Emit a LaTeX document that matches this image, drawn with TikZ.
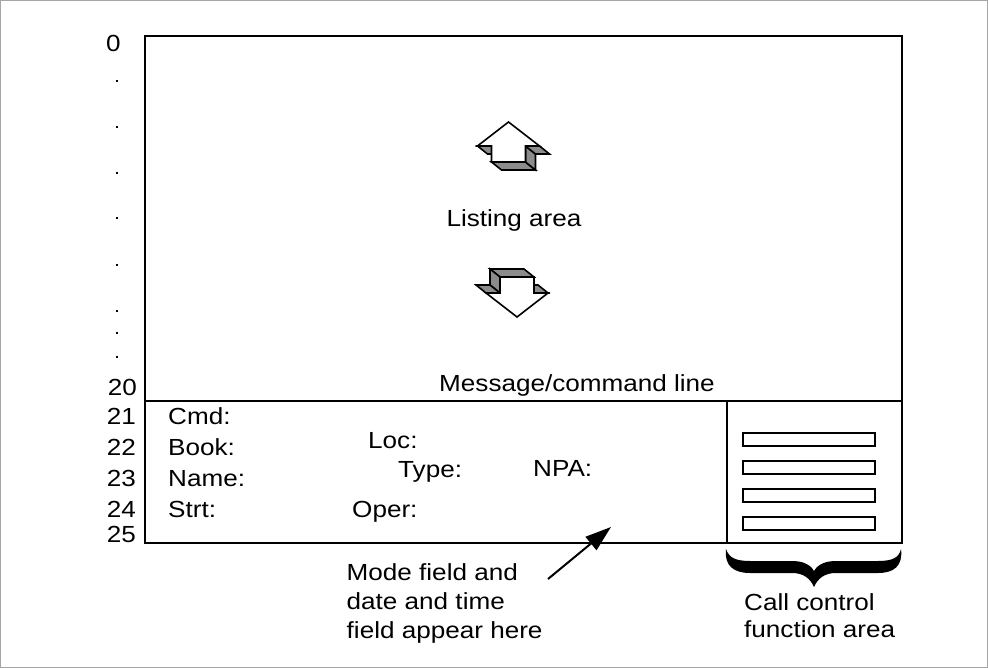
\documentclass[tikz,border=0pt]{standalone}
\usepackage{fontspec}
\setmainfont[FakeStretch=1.12]{Liberation Sans}
\usetikzlibrary{arrows.meta}
\begin{document}
\begin{tikzpicture}[x=1pt,y=-1pt,
  txt/.style={inner sep=0pt, anchor=base west, font=\fontsize{23.3}{28}\selectfont},
  num/.style={inner sep=0pt, anchor=base east, font=\fontsize{23.3}{28}\selectfont},
  boxline/.style={line width=2pt},
  face/.style={fill=black!45, draw=black, line width=1.6pt, line join=miter},
  front/.style={fill=white, draw=black, line width=1.6pt, line join=miter},
  bar/.style={draw=black, line width=2pt, fill=white}]
\useasboundingbox (0,0) rectangle (988,668);
\draw[gray!70, line width=1pt] (0.5,0.5) rectangle (987.5,667.5);
% main screen box
\draw[boxline] (144.5,36) rectangle (902,543);
\draw[boxline] (144.5,400.5) -- (902,400.5);
\draw[boxline] (727,400.5) -- (727,543);
% row numbers
\node[txt] (n0) at (106,52) {0};
\foreach \yy in {81,127,173,218,265,311,333,357}
  \fill (115.8,\yy-1.2) rectangle ++(2.5,2.5);
\node[num] (n20) at (137,395) {20};
\node[num] (n21) at (136,424) {21};
\node[num] (n22) at (136,455) {22};
\node[num] (n23) at (136,486) {23};
\node[num] (n24) at (136,517) {24};
\node[num] (n25) at (136,542) {25};
% up arrow (extrusion offset (10,8))
\draw[face] (477.5,146) -- (491.5,146) -- (501.5,154) -- (487.5,154) -- cycle;
\draw[face] (491.5,162) -- (525.5,162) -- (535.5,170) -- (501.5,170) -- cycle;
\draw[face] (525.5,146) -- (525.5,162) -- (535.5,170) -- (535.5,154) -- cycle;
\draw[face] (525.5,146) -- (539.5,146) -- (549.5,154) -- (535.5,154) -- cycle;
\draw[front] (508.5,122) -- (539.5,146) -- (525.5,146) -- (525.5,162) -- (491.5,162) -- (491.5,146) -- (477.5,146) -- cycle;
% down arrow (extrusion offset (-10,-8))
\draw[face] (500,277) -- (534,277) -- (524,269) -- (490,269) -- cycle;
\draw[face] (500,277) -- (500,293) -- (490,285) -- (490,269) -- cycle;
\draw[face] (486,293) -- (500,293) -- (490,285) -- (476,285) -- cycle;
\draw[face] (534,293) -- (548,293) -- (538,285) -- (534,285) -- cycle;
\draw[front] (517,317) -- (548,293) -- (534,293) -- (534,277) -- (500,277) -- (500,293) -- (486,293) -- cycle;
% labels in listing area
\node[txt, anchor=base] (listing) at (514,227) {Listing area};
\node[txt, anchor=base] (msg) at (577,391) {Message/command line};
% fields
\node[txt] (cmd) at (168,424) {Cmd:};
\node[txt] (book) at (168,455) {Book:};
\node[txt] (name) at (168,486) {Name:};
\node[txt] (strt) at (168,517) {Strt:};
\node[txt] (loc) at (368,448) {Loc:};
\node[txt] (type) at (398,477) {Type:};
\node[txt] (npa) at (533,476) {NPA:};
\node[txt] (oper) at (352,517) {Oper:};
% call control bars
\foreach \yy/\nm in {433/b1,461/b2,489/b3,517/b4}
  \draw[bar] (742.5,\yy) rectangle (874.5,\yy+12.5);
% brace
\fill (726,549) .. controls (724,566) and (734,573) .. (750,573) -- (792,573)
  .. controls (803,573) and (810,578) .. (814,587)
  .. controls (818,578) and (825,573) .. (836,573) -- (878,573)
  .. controls (894,573) and (903,566) .. (901,549)
  .. controls (899,558) and (892,561) .. (878,561) -- (836,561)
  .. controls (826,561) and (818,564) .. (814,571)
  .. controls (810,564) and (802,561) .. (792,561) -- (750,561)
  .. controls (736,561) and (729,558) .. (726,549) -- cycle;
% bottom labels
\node[txt] (mode1) at (346.5,580) {Mode field and};
\node[txt] (mode2) at (346.5,609) {date and time};
\node[txt] (mode3) at (346.5,638) {field appear here};
\node[txt] (call1) at (744,610) {Call control};
\node[txt] (call2) at (744,637) {function area};
% pointer arrow
\coordinate (pstart) at (548,579);
\coordinate (pend) at (611,527);
\draw[line width=2pt, -{Triangle[length=26pt,width=17pt]}] (pstart) -- (pend);
\end{tikzpicture}
\end{document}
